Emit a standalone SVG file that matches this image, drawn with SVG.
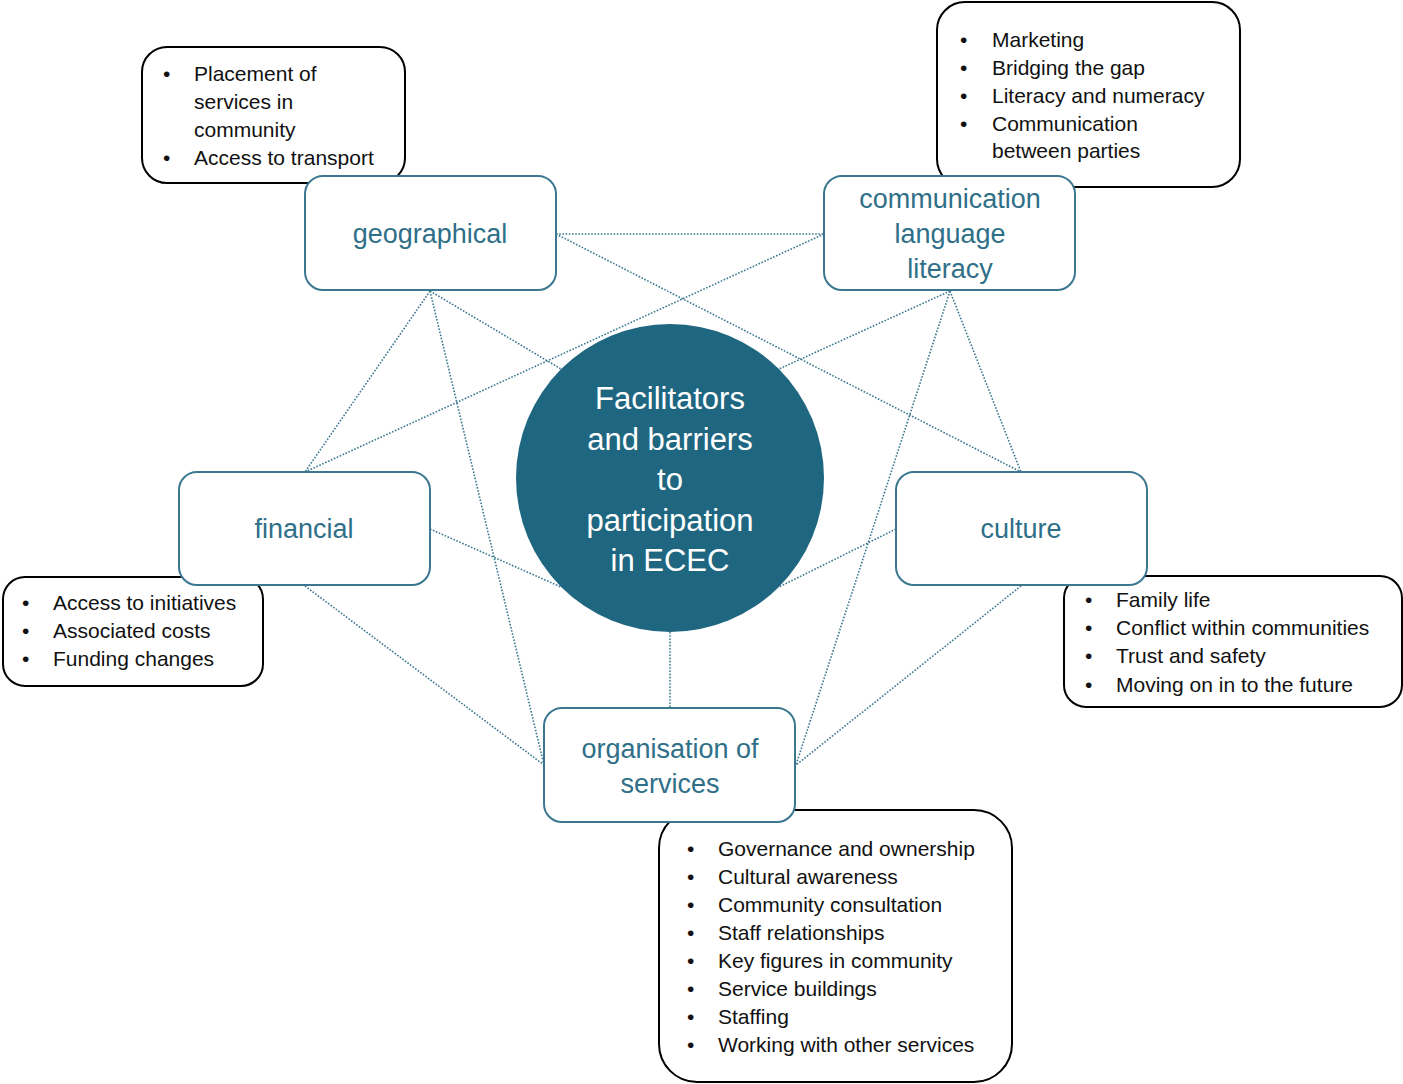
<svg xmlns="http://www.w3.org/2000/svg" width="1403" height="1084" viewBox="0 0 1403 1084">
<style>
.note{fill:#fff;stroke:#000;stroke-width:2}
.node{fill:#fff;stroke:#3b7890;stroke-width:2}
.lt{font-family:"Liberation Sans",Arial,sans-serif;font-size:21px;fill:#111}
.nt{font-family:"Liberation Sans",Arial,sans-serif;font-size:27px;fill:#2f6f88;text-anchor:middle}
.ct{font-family:"Liberation Sans",Arial,sans-serif;font-size:31px;fill:#fff;text-anchor:middle}
.con{stroke:#3b7890;stroke-width:1.6;stroke-dasharray:1.6 1.6;fill:none}
</style>
<g id="connectors">
<line class="con" x1="556" y1="234" x2="824" y2="234"/>
<line class="con" x1="430" y1="291" x2="305" y2="472"/>
<line class="con" x1="430" y1="291" x2="544" y2="765"/>
<line class="con" x1="430" y1="291" x2="561" y2="369"/>
<line class="con" x1="556" y1="234" x2="1021" y2="472"/>
<line class="con" x1="824" y1="234" x2="305" y2="472"/>
<line class="con" x1="950" y1="291" x2="1021" y2="472"/>
<line class="con" x1="950" y1="291" x2="796" y2="765"/>
<line class="con" x1="950" y1="291" x2="779" y2="369"/>
<line class="con" x1="430" y1="529" x2="561" y2="587"/>
<line class="con" x1="305" y1="586" x2="544" y2="765"/>
<line class="con" x1="896" y1="529" x2="779" y2="587"/>
<line class="con" x1="1021" y1="586" x2="796" y2="765"/>
<line class="con" x1="670" y1="632" x2="670" y2="708"/>
</g>
<g id="note-geographical">
<rect class="note" x="142" y="47" width="263" height="136" rx="25"/>
<text class="lt" x="163" y="81">•</text><text class="lt" x="194" y="81">Placement of</text>
<text class="lt" x="194" y="109">services in</text>
<text class="lt" x="194" y="137">community</text>
<text class="lt" x="163" y="165">•</text><text class="lt" x="194" y="165">Access to transport</text>
</g>
<g id="note-communication">
<rect class="note" x="937" y="2" width="303" height="185" rx="28"/>
<text class="lt" x="960" y="47">•</text><text class="lt" x="992" y="47">Marketing</text>
<text class="lt" x="960" y="75">•</text><text class="lt" x="992" y="75">Bridging the gap</text>
<text class="lt" x="960" y="103">•</text><text class="lt" x="992" y="103">Literacy and numeracy</text>
<text class="lt" x="960" y="131">•</text><text class="lt" x="992" y="131">Communication</text>
<text class="lt" x="992" y="158">between parties</text>
</g>
<g id="note-financial">
<rect class="note" x="3" y="577" width="260" height="109" rx="22"/>
<text class="lt" x="22" y="610">•</text><text class="lt" x="53" y="610">Access to initiatives</text>
<text class="lt" x="22" y="638">•</text><text class="lt" x="53" y="638">Associated costs</text>
<text class="lt" x="22" y="666">•</text><text class="lt" x="53" y="666">Funding changes</text>
</g>
<g id="note-culture">
<rect class="note" x="1064" y="576" width="338" height="131" rx="22"/>
<text class="lt" x="1085" y="607">•</text><text class="lt" x="1116" y="607">Family life</text>
<text class="lt" x="1085" y="635">•</text><text class="lt" x="1116" y="635">Conflict within communities</text>
<text class="lt" x="1085" y="663">•</text><text class="lt" x="1116" y="663">Trust and safety</text>
<text class="lt" x="1085" y="692">•</text><text class="lt" x="1116" y="692">Moving on in to the future</text>
</g>
<g id="note-organisation">
<rect class="note" x="659" y="810" width="353" height="272" rx="38"/>
<text class="lt" x="687" y="856">•</text><text class="lt" x="718" y="856">Governance and ownership</text>
<text class="lt" x="687" y="884">•</text><text class="lt" x="718" y="884">Cultural awareness</text>
<text class="lt" x="687" y="912">•</text><text class="lt" x="718" y="912">Community consultation</text>
<text class="lt" x="687" y="940">•</text><text class="lt" x="718" y="940">Staff relationships</text>
<text class="lt" x="687" y="968">•</text><text class="lt" x="718" y="968">Key figures in community</text>
<text class="lt" x="687" y="996">•</text><text class="lt" x="718" y="996">Service buildings</text>
<text class="lt" x="687" y="1024">•</text><text class="lt" x="718" y="1024">Staffing</text>
<text class="lt" x="687" y="1052">•</text><text class="lt" x="718" y="1052">Working with other services</text>
</g>
<g id="center">
<circle cx="670" cy="478" r="154" fill="#1f6781"/>
<text class="ct" x="670" y="409">Facilitators</text>
<text class="ct" x="670" y="450">and barriers</text>
<text class="ct" x="670" y="490">to</text>
<text class="ct" x="670" y="531">participation</text>
<text class="ct" x="670" y="571">in ECEC</text>
</g>
<g id="geographical">
<rect class="node" x="305" y="176" width="251" height="114" rx="18"/>
<text class="nt" x="430" y="243">geographical</text>
</g>
<g id="communication">
<rect class="node" x="824" y="176" width="251" height="114" rx="18"/>
<text class="nt" x="950" y="208">communication</text>
<text class="nt" x="950" y="243">language</text>
<text class="nt" x="950" y="278">literacy</text>
</g>
<g id="financial">
<rect class="node" x="179" y="472" width="251" height="113" rx="18"/>
<text class="nt" x="304" y="538">financial</text>
</g>
<g id="culture">
<rect class="node" x="896" y="472" width="251" height="113" rx="18"/>
<text class="nt" x="1021" y="538">culture</text>
</g>
<g id="organisation">
<rect class="node" x="544" y="708" width="251" height="114" rx="18"/>
<text class="nt" x="670" y="758">organisation of</text>
<text class="nt" x="670" y="793">services</text>
</g>
</svg>
